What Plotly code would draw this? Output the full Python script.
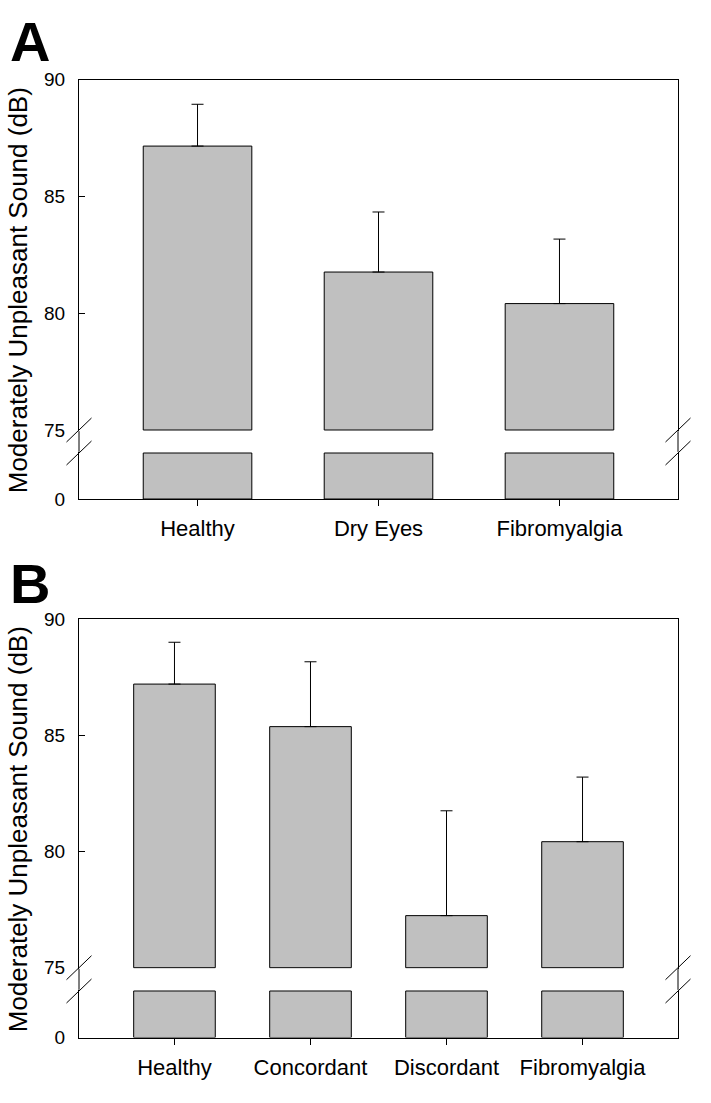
import plotly.graph_objects as go

# ---- data ----
cats_a = ["Healthy", "Dry Eyes", "Fibromyalgia"]
means_a = [87.15, 81.76, 80.41]
sem_a = [1.79, 2.57, 2.76]

cats_b = ["Healthy", "Concordant", "Discordant", "Fibromyalgia"]
means_b = [87.20, 85.37, 77.24, 80.42]
sem_b = [1.80, 2.79, 4.51, 2.78]

y_ticks_upper = [75, 80, 85, 90]
y_ticks_lower = [0]
BREAK_LO = 10     # top of the lower axis segment
BREAK_HI = 75     # bottom of the upper axis segment
Y_MAX = 90

W, H = 711, 1103
ML, MR = 79, 33
PW = W - ML - MR

FONT = "Liberation Sans, Arial, sans-serif"
BAR_FILL = "#c0c0c0"
LINE = "#000000"


def py(px):
    return 1 - px / H


def pxx(px):
    return (px - ML) / PW


fig = go.Figure()

# panel geometry (pixel positions)
panels = [
    dict(cats=cats_a, means=means_a, sem=sem_a,
         up_top=79.5, up_75=430.0, lo_top=453.0, lo_bot=499.0,
         xl="x", xu="x2", yl="y", yu="y2", label="A", label_y=41),
    dict(cats=cats_b, means=means_b, sem=sem_b,
         up_top=619.0, up_75=967.7, lo_top=991.0, lo_bot=1037.5,
         xl="x3", xu="x4", yl="y3", yu="y4", label="B", label_y=583),
]

shapes = []
annotations = []
layout_axes = {}

for i, p in enumerate(panels):
    n = len(p["cats"])
    pad = 0.655 if n == 3 else 0.702
    xr = [-pad, n - 1 + pad]

    # upper segment
    ppu = (p["up_75"] - p["up_top"]) / (Y_MAX - BREAK_HI)
    up_lo_val = BREAK_HI - 0.05
    up_bot_px = p["up_75"] + 0.05 * ppu
    # lower segment
    ppl = (p["lo_bot"] - p["lo_top"]) / BREAK_LO
    lo_hi_val = BREAK_LO + 0.25
    lo_top_px = p["lo_bot"] - lo_hi_val * ppl

    fig.add_trace(go.Bar(
        x=p["cats"], y=[m - BREAK_HI for m in p["means"]], base=BREAK_HI,
        xaxis=p["xu"], yaxis=p["yu"], width=0.6,
        marker=dict(color=BAR_FILL, line=dict(color=LINE, width=1)),
        error_y=dict(type="data", symmetric=False, array=p["sem"],
                     arrayminus=[0] * n, color=LINE, thickness=1, width=6),
        showlegend=False,
    ))
    fig.add_trace(go.Bar(
        x=p["cats"], y=[min(m, BREAK_LO) for m in p["means"]],
        xaxis=p["xl"], yaxis=p["yl"], width=0.6,
        marker=dict(color=BAR_FILL, line=dict(color=LINE, width=1)),
        showlegend=False,
    ))

    xl_name = "xaxis" + ("" if p["xl"] == "x" else p["xl"][1:])
    xu_name = "xaxis" + p["xu"][1:]
    yl_name = "yaxis" + ("" if p["yl"] == "y" else p["yl"][1:])
    yu_name = "yaxis" + p["yu"][1:]

    layout_axes[xl_name] = dict(
        domain=[0, 1], anchor=p["yl"], range=xr, type="category",
        showline=True, linecolor=LINE, linewidth=1,
        ticks="outside", ticklen=6, tickcolor=LINE, tickwidth=1,
        tickfont=dict(family=FONT, size=22, color="black"),
        showgrid=False, zeroline=False, automargin=False,
        ticklabelstandoff=4,
    )
    layout_axes[xu_name] = dict(
        domain=[0, 1], anchor=p["yu"], range=xr, type="category",
        matches=p["xl"], side="top",
        showline=True, linecolor=LINE, linewidth=1,
        ticks="", showticklabels=False, showgrid=False, zeroline=False,
    )
    layout_axes[yu_name] = dict(
        domain=[py(up_bot_px), py(p["up_top"])], anchor=p["xu"],
        range=[up_lo_val, Y_MAX],
        tickmode="array", tickvals=y_ticks_upper,
        ticktext=[str(v) for v in y_ticks_upper],
        ticks="", showline=True, mirror=True, linecolor=LINE, linewidth=1,
        minor=dict(tickmode="array", tickvals=[80, 85], ticks="inside",
                   ticklen=6, tickcolor=LINE, tickwidth=1, showgrid=False),
        tickfont=dict(family=FONT, size=19, color="black"),
        showgrid=False, zeroline=False, automargin=False,
        ticklabelstandoff=9,
    )
    layout_axes[yl_name] = dict(
        domain=[py(p["lo_bot"]), py(lo_top_px)], anchor=p["xl"],
        range=[0, lo_hi_val],
        tickmode="array", tickvals=y_ticks_lower,
        ticktext=[str(v) for v in y_ticks_lower],
        ticks="", showline=True, mirror=True, linecolor=LINE, linewidth=1,
        tickfont=dict(family=FONT, size=19, color="black"),
        showgrid=False, zeroline=False, automargin=False,
        ticklabelstandoff=9,
    )

    # continue the frame through the axis break, and draw break marks
    for xp in (0, 1):
        shapes.append(dict(type="line", xref="paper", yref="paper",
                           x0=xp, x1=xp, y0=py(up_bot_px), y1=py(lo_top_px),
                           line=dict(color=LINE, width=1)))
        for cy in (p["up_75"], p["lo_top"]):
            cx = 0 if xp == 0 else PW
            shapes.append(dict(type="line", xref="paper", yref="paper",
                               x0=(cx - 12.5) / PW, x1=(cx + 12.5) / PW,
                               y0=py(cy + 12), y1=py(cy - 12),
                               line=dict(color=LINE, width=1)))

    # y-axis title
    annotations.append(dict(
        text="Moderately Unpleasant Sound (dB)", textangle=-90,
        xref="paper", yref="paper", x=pxx(18), y=py((p["up_top"] + p["lo_bot"]) / 2 + 1),
        xanchor="center", yanchor="middle", showarrow=False,
        font=dict(family=FONT, size=26, color="black"),
    ))
    # panel label
    annotations.append(dict(
        text="<b>%s</b>" % p["label"], xref="paper", yref="paper",
        x=pxx(8), y=py(p["label_y"]), xanchor="left", yanchor="middle",
        showarrow=False, font=dict(family=FONT, size=56, color="black"),
    ))

fig.update_layout(
    width=W, height=H,
    margin=dict(l=ML, r=MR, t=0, b=0, pad=0),
    paper_bgcolor="white", plot_bgcolor="white",
    shapes=shapes, annotations=annotations,
    bargap=0.4, showlegend=False,
    **layout_axes,
)

fig.write_html("out.html", config={"displayModeBar": False},
               post_script="document.body.style.margin='0';")
